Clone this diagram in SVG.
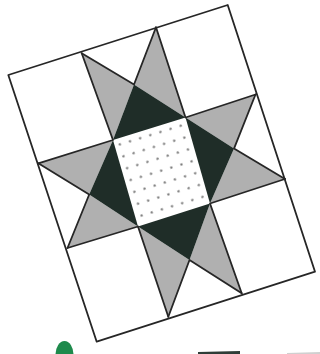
<svg xmlns="http://www.w3.org/2000/svg" width="320" height="354" viewBox="0 0 320 354">
  <style>
    .light { fill: #b0b0b0; }
    .dark { fill: #1f2d28; }
    .ln { fill: none; stroke: #262626; stroke-width: 1.8; stroke-linejoin: round; stroke-linecap: round; }
  </style>
  <defs>
    <pattern id="dots" patternUnits="userSpaceOnUse" width="10.6" height="12.4" patternTransform="translate(113,140) rotate(-17)">
      <circle cx="5.3" cy="6.2" r="1.2" fill="#7a7a7a"/>
    </pattern>
  </defs>
  <rect width="320" height="354" fill="#ffffff"/>

  <g id="center">
    <polygon points="113,140 185.5,117.5 210,203.5 138,226.5" fill="#ffffff"/>
    <polygon points="113,140 185.5,117.5 210,203.5 138,226.5" fill="url(#dots)"/>
  </g>

  <g id="top-point">
    <polygon class="light" points="81.7,53.3 134,84.5 113,140"/>
    <polygon class="light" points="156,27.3 134,84.5 185.5,117.5"/>
    <polygon class="dark" points="113,140 134,84.5 185.5,117.5"/>
  </g>
  <g id="left-point">
    <polygon class="light" points="38.3,163.3 89.2,194.5 113,140"/>
    <polygon class="light" points="67.5,248 89.2,194.5 138,226.5"/>
    <polygon class="dark" points="113,140 89.2,194.5 138,226.5"/>
  </g>
  <g id="right-point">
    <polygon class="light" points="255.5,94.5 234,148.6 185.5,117.5"/>
    <polygon class="light" points="285,179 234,148.6 210,203.5"/>
    <polygon class="dark" points="185.5,117.5 234,148.6 210,203.5"/>
  </g>
  <g id="bottom-point">
    <polygon class="light" points="168.3,316.7 189.5,260 138,226.5"/>
    <polygon class="light" points="241.7,293.3 189.5,260 210,203.5"/>
    <polygon class="dark" points="138,226.5 189.5,260 210,203.5"/>
  </g>

  <g id="lines">
    <polygon class="ln" points="8.3,75 227.7,5 315,271.7 96.7,341.7"/>
    <polyline class="ln" points="81.7,53.3 113,140 38.3,163.3"/>
    <polyline class="ln" points="156,27.3 185.5,117.5 255.5,94.5"/>
    <polyline class="ln" points="67.5,248 138,226.5 168.3,316.7"/>
    <polyline class="ln" points="285,179 210,203.5 241.7,293.3"/>
    <polyline class="ln" points="81.7,53.3 134,84.5 156,27.3"/>
    <polyline class="ln" points="38.3,163.3 89.2,194.5 67.5,248"/>
    <polyline class="ln" points="255.5,94.5 234,148.6 285,179"/>
    <polyline class="ln" points="168.3,316.7 189.5,260 241.7,293.3"/>
  </g>

  <g id="fragments">
    <ellipse cx="64.5" cy="355" rx="9" ry="14" fill="#1e8a4c"/>
    <polygon points="198,352 240,351 240,354 198,354" fill="#2f3d38"/>
    <polygon points="287,353 320,352 320,354 287,354" fill="#d0d0d0"/>
  </g>
</svg>
